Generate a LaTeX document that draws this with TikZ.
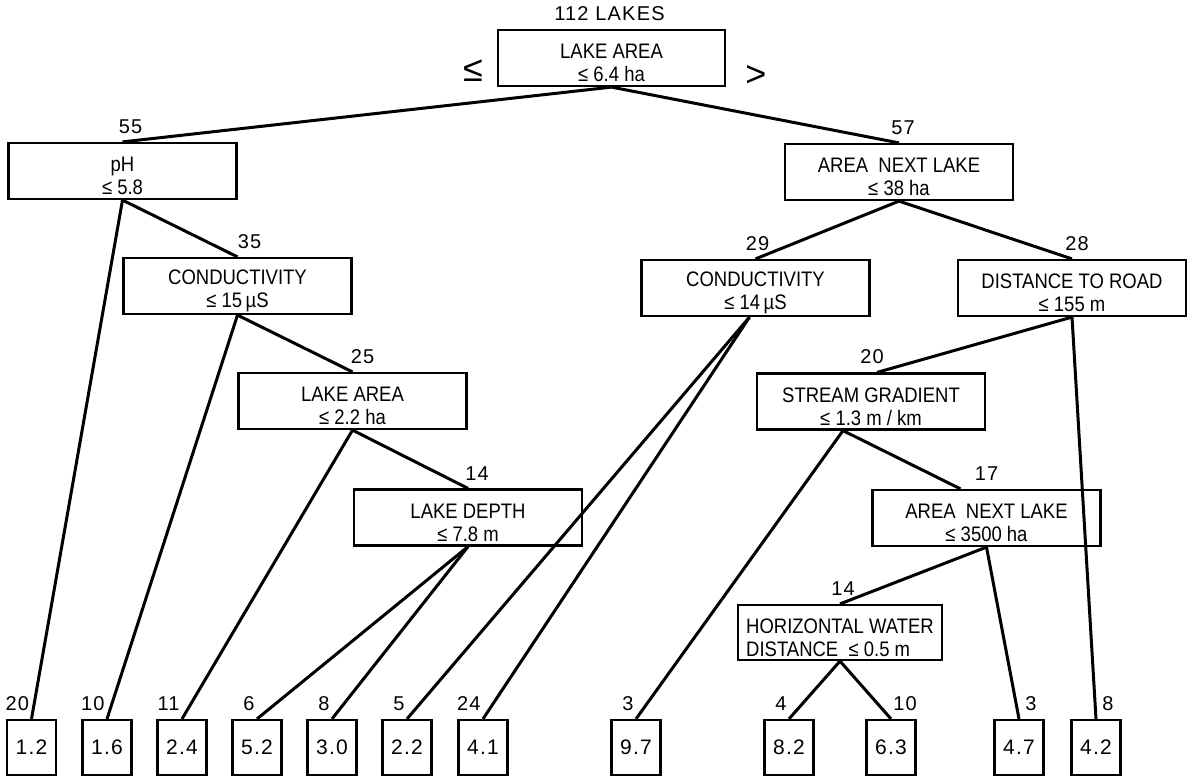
\documentclass[tikz,border=0pt]{standalone}
\usepackage{fontspec}
\setmainfont{Liberation Sans}
\newfontfamily\boxfont[FakeStretch=0.88]{Liberation Sans}
\newfontfamily\cntfont[LetterSpace=6]{Liberation Sans}

\begin{document}
\begin{tikzpicture}[x=0.5pt,y=-0.5pt,
 split/.style={draw=black,line width=1.1pt,minimum width=114pt,minimum height=28pt,inner sep=0pt,align=center,text height=24pt,font=\boxfont\fontsize{10.5}{11.5}\selectfont},
 leaf/.style={draw=black,line width=1.1pt,minimum width=24.5pt,minimum height=27.5pt,inner sep=0pt,font=\cntfont\fontsize{10.5}{12}\selectfont},
 cnt/.style={inner xsep=1pt,inner ysep=4pt,font=\cntfont\fontsize{10}{12}\selectfont},
 sign/.style={inner sep=0pt,font=\fontsize{18}{20}\selectfont},
 branch/.style={line width=1.5pt}]

 \useasboundingbox (0,0) rectangle (1188,778);

 % splits
 \node[split,minimum width=113.5pt] (root) at (611.5,58) {LAKE AREA\\≤ 6.4 ha};
 \node[sign] (le) at (473,71) {≤};
 \node[sign] (gt) at (756,76) {>};

 \node[split] (ph) at (122.5,171) {pH\\≤ 5.8};
 \node[split] (cond1) at (237.5,286) {CONDUCTIVITY\\≤ 15\,µS};
 \node[split] (la2) at (352.5,401) {LAKE AREA\\≤ 2.2 ha};
 \node[split] (ld) at (468,517.5) {LAKE DEPTH\\≤ 7.8 m};

 \node[split] (aln) at (899,172) {AREA\ \ NEXT LAKE\\≤ 38 ha};
 \node[split] (cond2) at (755.5,288) {CONDUCTIVITY\\≤ 14\,µS};
 \node[split] (dtr) at (1072,288) {DISTANCE TO ROAD\\≤ 155 m};
 \node[split] (sg) at (871,401.5) {STREAM GRADIENT\\≤ 1.3 m / km};
 \node[split] (aln2) at (986.5,518) {AREA\ \ NEXT LAKE\\≤ 3500 ha};
 \node[split,align=left,minimum width=102pt,minimum height=27.5pt] (hwd) at (840,632.5) {HORIZONTAL WATER\\DISTANCE\ \ ≤ 0.5 m};

 % leaves
 \node[leaf] (l1) at (31.5,747.5) {1.2};
 \node[leaf] (l2) at (107,747.5) {1.6};
 \node[leaf] (l3) at (182,747.5) {2.4};
 \node[leaf] (l4) at (257,747.5) {5.2};
 \node[leaf] (l5) at (332,747.5) {3.0};
 \node[leaf] (l6) at (407,747.5) {2.2};
 \node[leaf] (l7) at (483,747.5) {4.1};
 \node[leaf] (l8) at (636,747.5) {9.7};
 \node[leaf] (l9) at (789,747.5) {8.2};
 \node[leaf] (l10) at (891,747.5) {6.3};
 \node[leaf] (l11) at (1019,747.5) {4.7};
 \node[leaf] (l12) at (1096,747.5) {4.2};

 % branches
 \draw[branch] (root.south) -- (ph.north);
 \draw[branch] (root.south) -- (aln.north);
 \draw[branch] (ph.south) -- (l1.north);
 \draw[branch] (ph.south) -- (cond1.north);
 \draw[branch] (cond1.south) -- (l2.north);
 \draw[branch] (cond1.south) -- (la2.north);
 \draw[branch] (la2.south) -- (l3.north);
 \draw[branch] (la2.south) -- (ld.north);
 \draw[branch] (ld.south) -- (l4.north);
 \draw[branch] (ld.south) -- (l5.north);

 \draw[branch] (aln.south) -- (cond2.north);
 \draw[branch] (aln.south) -- (dtr.north);
 \draw[branch] ([xshift=-3pt]cond2.south) -- (l6.north);
 \draw[branch] ([xshift=-3pt]cond2.south) -- (l7.north);
 \draw[branch] (dtr.south) -- ([xshift=3pt]sg.north);
 \draw[branch] (dtr.south) -- (l12.north);
 \draw[branch] ([xshift=-14pt]sg.south) -- (l8.north);
 \draw[branch] ([xshift=-14pt]sg.south) -- ([xshift=-13pt]aln2.north);
 \draw[branch] (aln2.south) -- (hwd.north);
 \draw[branch] (aln2.south) -- (l11.north);
 \draw[branch] (hwd.south) -- (l9.north);
 \draw[branch] (hwd.south) -- (l10.north);

 % counts
 \node[cnt,anchor=south] (c112) at ([xshift=-1pt]root.north) {112 LAKES};
 \node[cnt,anchor=south] (c55) at ([xshift=4pt]ph.north) {55};
 \node[cnt,anchor=south] (c35) at ([xshift=6pt]cond1.north) {35};
 \node[cnt,anchor=south] (c25) at ([xshift=5pt]la2.north) {25};
 \node[cnt,anchor=south] (c14a) at ([xshift=4.5pt]ld.north) {14};
 \node[cnt,anchor=south] (c57) at ([xshift=2pt]aln.north) {57};
 \node[cnt,anchor=south] (c29) at ([xshift=1pt]cond2.north) {29};
 \node[cnt,anchor=south] (c28) at ([xshift=2.5pt]dtr.north) {28};
 \node[cnt,anchor=south] (c20a) at ([xshift=0.5pt]sg.north) {20};
 \node[cnt,anchor=south] (c17) at (aln2.north) {17};
 \node[cnt,anchor=south] (c14b) at ([xshift=1.5pt]hwd.north) {14};

 \node[cnt,anchor=south east] (c20) at (l1.north) {20};
 \node[cnt,anchor=south east] (c10a) at (l2.north) {10};
 \node[cnt,anchor=south east] (c11) at (l3.north) {11};
 \node[cnt,anchor=south east] (c6) at (l4.north) {6};
 \node[cnt,anchor=south east] (c8a) at (l5.north) {8};
 \node[cnt,anchor=south east] (c5) at (l6.north) {5};
 \node[cnt,anchor=south east] (c24) at (l7.north) {24};
 \node[cnt,anchor=south east] (c3a) at (l8.north) {3};
 \node[cnt,anchor=south east] (c4) at (l9.north) {4};
 \node[cnt,anchor=south west] (c10b) at (l10.north) {10};
 \node[cnt,anchor=south west] (c3b) at ([xshift=2pt]l11.north) {3};
 \node[cnt,anchor=south west] (c8b) at ([xshift=2pt]l12.north) {8};

\end{tikzpicture}
\end{document}
